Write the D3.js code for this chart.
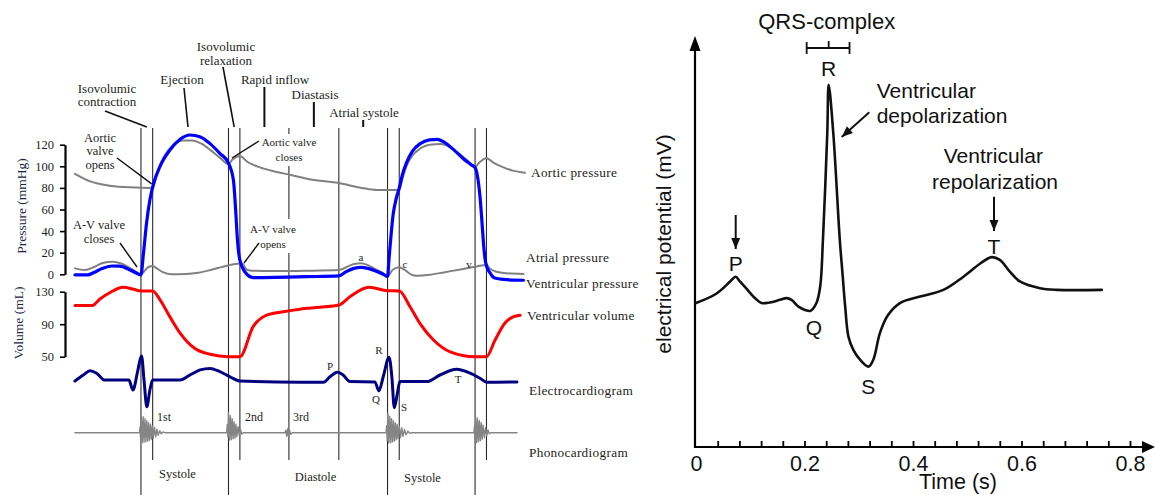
<!DOCTYPE html>
<html>
<head>
<meta charset="utf-8">
<script src="https://cdn.jsdelivr.net/npm/d3@7"></script>
<style>
  html, body { margin: 0; padding: 0; background: #fff; }
  svg { display: block; }
</style>
</head>
<body>
<svg id="chart" width="1155" height="495"></svg>
<script>
// ===================== Wiggers diagram (one and a half cardiac cycles) =====================
// time in ms, pressure in mmHg, volume in mL

// boundaries between the phases of the cycle
const phaseTimes = [214, 252, 498, 535, 694, 856, 1014, 1052, 1298, 1335];
// boundaries that run all the way to the bottom (valve closures / openings of the ventricle)
const fullPhaseTimes = [214, 498, 1014, 1298];

const pressureTicks = [0, 20, 40, 60, 80, 100, 120];
const volumeTicks = [50, 90, 130];

const aorticPressure = [
  [0, 93], [49, 86], [114, 82], [178, 80.5], [252, 80],
  [265, 92], [280, 104], [300, 114], [325, 121], [350, 124], [380, 124], [410, 121],
  [440, 115], [470, 108], [498, 102],
  [510, 106], [535, 109.5], [560, 104], [600, 99], [650, 95], [700, 92], [760, 88],
  [856, 84.5], [930, 80], [980, 78], [1052, 78],
  [1062, 88], [1075, 100], [1095, 110], [1120, 116.5], [1150, 120], [1187, 120.6],
  [1215, 118], [1250, 111], [1275, 105], [1298, 99],
  [1310, 103], [1335, 107.5], [1360, 103], [1390, 99], [1420, 96], [1460, 94]
];

const atrialPressure = [
  [0, 5.5], [32, 4], [60, 6.5], [90, 10.5], [123, 11.7], [150, 10], [175, 6.5], [200, 2], [214, 0],
  [228, 4], [240, 7], [252, 7.7], [265, 5.5], [285, 2], [313, 0], [360, 0.3], [400, 1.5],
  [440, 4], [480, 7], [510, 9], [535, 10], [545, 9.5], [552, 6], [560, 4], [575, 3.3],
  [650, 3], [750, 3.3], [856, 4],
  [880, 6.5], [905, 9.5], [928, 10.2], [950, 8.5], [980, 4], [1000, 1], [1014, -2],
  [1030, 4], [1052, 6.5], [1070, 4], [1090, 0], [1108, -1.3], [1150, -0.5], [1200, 2],
  [1260, 5], [1298, 7], [1335, 8.7], [1345, 5.5], [1368, 2.4], [1400, 1], [1455, 0.3]
];

const ventricularPressure = [
  [0, -0.5], [42, -0.5], [60, 1.5], [90, 5.5], [120, 7.7], [145, 7.5], [175, 4.5], [200, 1], [214, -0.5],
  [222, 19], [232, 47], [243, 69], [254, 83], [276, 100], [308, 115], [341, 125], [373, 129],
  [405, 127.4], [438, 121], [470, 112], [498, 103],
  [514, 87], [522, 56], [527, 32], [535, 13], [551, 2.4], [578, -3], [650, -2.8], [750, -2.2], [856, -1.5],
  [880, 2.5], [905, 5.5], [928, 6.5], [950, 5.5], [975, 3], [1000, 0], [1014, -2],
  [1019, 15], [1025, 35], [1032, 55], [1042, 70], [1052, 80], [1062, 92], [1075, 103],
  [1095, 114], [1120, 121], [1150, 124.5], [1175, 125], [1200, 122], [1230, 115], [1260, 107],
  [1285, 101.5], [1298, 98.7],
  [1305, 92], [1314, 72], [1320, 50], [1325, 30], [1330, 15], [1336, 7], [1345, 2], [1362, -3.5],
  [1400, -5], [1455, -5.5]
];

const ventricularVolume = [
  [0, 113], [56, 113], [81, 121], [114, 129], [156, 135.4], [190, 133], [214, 131], [252, 131],
  [276, 120], [308, 99], [341, 79], [389, 60], [438, 53], [498, 50], [535, 50],
  [578, 87], [622, 101.3], [676, 105.4], [730, 108.5], [795, 110.8], [856, 113.6],
  [892, 123.8], [954, 135.4], [1014, 131.3], [1052, 131],
  [1087, 111.5], [1119, 91], [1163, 70.5], [1217, 56], [1298, 50], [1335, 50],
  [1363, 70.5], [1395, 91.4], [1421, 99], [1444, 101]
];

// surface ECG, arbitrary units (0 = isoelectric line)
const ecgTrace = [
  [0, 0], [27, 0.2], [49, 0.34], [70, 0.26], [97, 0.03], [175, 0.03],
  [188, -0.3], [202, 0.26], [211, 0.7], [216, 0.83], [224, 0.03], [233, -0.86], [243, -0.3], [252, 0.03],
  [341, 0.03], [373, 0.2], [406, 0.37], [438, 0.42], [470, 0.31], [503, 0.14], [535, 0],
  [730, -0.04], [806, -0.04], [827, 0.14], [851, 0.29], [870, 0.2], [892, -0.02], [973, -0.03],
  [986, -0.33], [1000, 0.14], [1019, 0.79], [1028, 0.14], [1036, -0.89], [1046, -0.41], [1054, -0.02],
  [1141, -0.02], [1184, 0.2], [1238, 0.39], [1282, 0.26], [1314, 0.09], [1336, -0.04], [1434, -0.03]
];

// heart sounds, arbitrary units (0 = silence)
const phonoTrace = [
  [0, 0], [209, 0],
  [211, 0.3], [213, -0.35], [215, 0.88], [218, -0.5], [221, 0.8], [224, -0.48], [227, 0.7], [230, -0.45],
  [233, 0.6], [236, -0.42], [239, 0.5], [242, -0.38], [245, 0.42], [248, -0.32], [251, 0.34], [254, -0.27],
  [258, 0.26], [262, -0.2], [266, 0.18], [270, -0.13], [275, 0.1], [280, -0.06], [285, 0.04], [291, 0],
  [492, 0],
  [494, 0.4], [496, -0.2], [498, 1.0], [501, -0.37], [504, 0.85], [507, -0.35], [510, 0.7], [513, -0.3],
  [516, 0.55], [519, -0.27], [522, 0.42], [525, -0.2], [529, 0.3], [533, -0.14], [537, 0.16], [541, -0.07], [546, 0],
  [681, 0],
  [684, 0.12], [687, -0.18], [690, 0.2], [693, -0.17], [696, 0.13], [700, -0.08], [705, 0],
  [1009, 0],
  [1011, 0.35], [1013, -0.4], [1015, 0.98], [1018, -0.52], [1021, 0.82], [1024, -0.5], [1027, 0.7], [1030, -0.46],
  [1033, 0.6], [1036, -0.42], [1039, 0.5], [1042, -0.36], [1045, 0.42], [1048, -0.3], [1052, 0.34], [1056, -0.24],
  [1060, 0.25], [1064, -0.18], [1069, 0.16], [1074, -0.1], [1080, 0.08], [1086, -0.03], [1092, 0],
  [1294, 0],
  [1296, 0.3], [1298, -0.3], [1300, 0.8], [1303, -0.5], [1306, 0.72], [1309, -0.45], [1312, 0.6], [1315, -0.4],
  [1318, 0.5], [1321, -0.32], [1324, 0.38], [1328, -0.25], [1332, 0.26], [1336, -0.15], [1340, 0.14], [1344, -0.06],
  [1349, 0], [1434, 0]
];

// ===================== Single ECG complex (right) =====================
const ecgTimeTicks = [0.04, 0.08, 0.12, 0.16, 0.2, 0.24, 0.28, 0.32, 0.36, 0.4, 0.44, 0.48,
                      0.52, 0.56, 0.6, 0.64, 0.68, 0.72, 0.76, 0.8];
const ecgTimeLabels = [0, 0.2, 0.4, 0.6, 0.8];
// time (s), potential (mV)
const ecgComplex = [
  [0, -0.01], [0.038, 0.07], [0.063, 0.17], [0.073, 0.21], [0.081, 0.17], [0.093, 0.11], [0.109, 0.03],
  [0.121, -0.01], [0.136, -0.005], [0.155, 0.017], [0.167, 0.031], [0.176, 0.017], [0.189, -0.04],
  [0.201, -0.067], [0.211, -0.075], [0.222, -0.01], [0.229, 0.13], [0.234, 0.52], [0.242, 1.41],
  [0.2446, 1.81], [0.253, 1.41], [0.265, 0.52], [0.270, 0.24], [0.275, -0.04], [0.281, -0.29],
  [0.290, -0.40], [0.302, -0.48], [0.318, -0.54], [0.327, -0.48], [0.339, -0.26], [0.354, -0.11],
  [0.376, -0.01], [0.413, 0.044], [0.456, 0.10], [0.493, 0.21], [0.524, 0.32], [0.545, 0.373],
  [0.560, 0.35], [0.579, 0.25], [0.597, 0.17], [0.634, 0.114], [0.665, 0.10], [0.748, 0.10]
];
const qrsInterval = [0.204, 0.283];
const rPeakTime = 0.2446;

// ===================== drawing =====================
const svg = d3.select("#chart");
const SERIF = "'Liberation Serif', 'Times New Roman', serif";
const SANS = "'Liberation Sans', Arial, Helvetica, sans-serif";
const INK = "#1e1e22";

const xL = d3.scaleLinear().domain([0, 1460]).range([75, 525]);
const yP = d3.scaleLinear().domain([0, 120]).range([274.3, 144.7]);
const yV = d3.scaleLinear().domain([50, 130]).range([356.7, 291.7]);
const yE = d3.scaleLinear().domain([-1, 1]).range([411, 351]);
const yS = d3.scaleLinear().domain([-1, 1]).range([452.7, 412.7]);

const left = svg.append("g");

// phase boundaries
left.append("g").selectAll("line").data(phaseTimes).join("line")
  .attr("x1", d => xL(d)).attr("x2", d => xL(d))
  .attr("y1", 128)
  .attr("y2", d => fullPhaseTimes.includes(d) ? 495 : 460)
  .attr("stroke", "#2a2a2a").attr("stroke-width", 1.1);

// axes
function styleAxis(g) {
  g.select(".domain").attr("stroke", "#000").attr("stroke-width", 2.2);
  g.selectAll(".tick line").attr("stroke", "#000").attr("stroke-width", 1.6);
  g.selectAll(".tick text").attr("font-family", SERIF).attr("font-size", 12.5).attr("fill", INK);
}
left.append("g").attr("transform", "translate(65,0)")
  .call(d3.axisLeft(yP).tickValues(pressureTicks).tickSize(5).tickSizeOuter(0).tickPadding(6))
  .call(styleAxis);
left.append("g").attr("transform", "translate(65,0)")
  .call(d3.axisLeft(yV).tickValues(volumeTicks).tickSize(5).tickSizeOuter(0).tickPadding(6))
  .call(styleAxis);

left.append("text").attr("transform", "translate(21,206) rotate(-90)")
  .attr("text-anchor", "middle").attr("dominant-baseline", "central")
  .attr("font-family", SERIF).attr("font-size", 13.5).attr("fill", "#1c2640")
  .text("Pressure (mmHg)");
left.append("text").attr("transform", "translate(18,323) rotate(-90)")
  .attr("text-anchor", "middle").attr("dominant-baseline", "central")
  .attr("font-family", SERIF).attr("font-size", 13.5).attr("fill", "#1c2640")
  .text("Volume (mL)");

// curves
const lineP = d3.line().x(d => xL(d[0])).y(d => yP(d[1])).curve(d3.curveMonotoneX);
const lineV = d3.line().x(d => xL(d[0])).y(d => yV(d[1])).curve(d3.curveMonotoneX);
const lineE = d3.line().x(d => xL(d[0])).y(d => yE(d[1])).curve(d3.curveMonotoneX);
const lineS = d3.line().x(d => xL(d[0])).y(d => yS(d[1]));

function trace(gen, data, color, width) {
  left.append("path").attr("d", gen(data)).attr("fill", "none")
    .attr("stroke", color).attr("stroke-width", width)
    .attr("stroke-linejoin", "round").attr("stroke-linecap", "round");
}
trace(lineP, aorticPressure, "#808080", 2);
trace(lineP, atrialPressure, "#808080", 2);
trace(lineP, ventricularPressure, "#0000ff", 3.2);
trace(lineV, ventricularVolume, "#ff0000", 3);
trace(lineE, ecgTrace, "#000080", 3);
trace(lineS, phonoTrace, "#858585", 1.4);

// series names at the right end
const seriesNames = [
  ["Aortic pressure", 531, 172],
  ["Atrial pressure", 526, 257],
  ["Ventricular pressure", 526, 283],
  ["Ventricular volume", 527, 315],
  ["Electrocardiogram", 529, 390],
  ["Phonocardiogram", 529, 452]
];
left.append("g").selectAll("text").data(seriesNames).join("text")
  .attr("x", d => d[1]).attr("y", d => d[2])
  .attr("dominant-baseline", "central")
  .attr("font-family", SERIF).attr("font-size", 13.3).attr("letter-spacing", 0.3).attr("fill", INK)
  .text(d => d[0]);

// phase names with leaders pointing into each interval
function mid(a, b) { return xL((a + b) / 2); }
const lead = left.append("g").attr("stroke", "#111").attr("stroke-width", 1.6);
function textLines(lines, x, y0, step, size, anchor) {
  lines.forEach((s, i) => {
    left.append("text").attr("x", x).attr("y", y0 + i * step)
      .attr("text-anchor", anchor || "middle").attr("dominant-baseline", "central")
      .attr("font-family", SERIF).attr("font-size", size).attr("fill", INK).text(s);
  });
}
textLines(["Isovolumic", "contraction"], 107, 88, 13.5, 13);
lead.append("line").attr("x1", 105).attr("y1", 111).attr("x2", mid(214, 252)).attr("y2", 127);
textLines(["Ejection"], 182, 79, 0, 13);
lead.append("line").attr("x1", 184).attr("y1", 88).attr("x2", 188).attr("y2", 127);
textLines(["Isovolumic", "relaxation"], 226, 46, 14, 13);
lead.append("line").attr("x1", 223).attr("y1", 67).attr("x2", mid(498, 535)).attr("y2", 127);
textLines(["Rapid inflow"], 275, 79, 0, 13);
lead.append("line").attr("x1", mid(535, 694)).attr("y1", 87).attr("x2", mid(535, 694)).attr("y2", 127).attr("stroke-width", 2);
textLines(["Diastasis"], 315, 94, 0, 13);
lead.append("line").attr("x1", mid(694, 856)).attr("y1", 102).attr("x2", mid(694, 856)).attr("y2", 127).attr("stroke-width", 2);
textLines(["Atrial systole"], 364, 112, 0, 13);
lead.append("line").attr("x1", mid(856, 1014)).attr("y1", 120).attr("x2", mid(856, 1014)).attr("y2", 127).attr("stroke-width", 2);

// valve events
textLines(["Aortic", "valve", "opens"], 100, 137.5, 13.8, 12.5);
lead.append("line").attr("x1", 117).attr("y1", 158).attr("x2", xL(252) - 1).attr("y2", yP(80) - 4).attr("stroke-width", 1.4);

left.append("rect").attr("x", 261).attr("y", 134).attr("width", 56).attr("height", 32).attr("fill", "#fff");
textLines(["Aortic valve", "closes"], 289, 142, 15, 11);
lead.append("line").attr("x1", 259).attr("y1", 141).attr("x2", 232).attr("y2", 158).attr("stroke-width", 1.4);

textLines(["A-V valve", "closes"], 99, 225, 14, 12.5);
lead.append("line").attr("x1", 120).attr("y1", 243).attr("x2", 137).attr("y2", 267).attr("stroke-width", 1.4);

left.append("rect").attr("x", 252).attr("y", 219).attr("width", 44).attr("height", 34).attr("fill", "#fff");
textLines(["A-V valve", "opens"], 273, 229, 15, 11);
lead.append("line").attr("x1", 259).attr("y1", 243).attr("x2", 244).attr("y2", 263).attr("stroke-width", 1.4);

lead.raise();

// wave letters
const letters = [
  ["a", xL(928), 257], ["c", 405, 264], ["v", 469, 264],
  ["P", 330, 366], ["R", 379, 350], ["Q", 376, 399], ["S", 404, 407], ["T", 458, 379]
];
left.append("g").selectAll("text").data(letters).join("text")
  .attr("x", d => d[1]).attr("y", d => d[2])
  .attr("text-anchor", "middle").attr("dominant-baseline", "central")
  .attr("font-family", SERIF).attr("font-size", 11).attr("fill", INK).text(d => d[0]);

// heart sound names and cycle phases
textLines(["1st"], 157, 417, 0, 12, "start");
textLines(["2nd"], 245, 417, 0, 12, "start");
textLines(["3rd"], 293, 417, 0, 12, "start");
textLines(["Systole"], 177.5, 474, 0, 12.5);
textLines(["Diastole"], 315.5, 477, 0, 12.5);
textLines(["Systole"], 422.5, 478, 0, 12.5);

// ===================== right panel =====================
const xR = d3.scaleLinear().domain([0, 0.8]).range([696, 1130]);
const yR = d3.scaleLinear().domain([-1.21, 2.2]).range([447, 38]);
const right = svg.append("g");

// axes with arrow heads
right.append("line").attr("x1", 695).attr("y1", 448).attr("x2", 695).attr("y2", 48)
  .attr("stroke", "#000").attr("stroke-width", 2.2);
right.append("path").attr("d", "M695,36 L689.5,51 L700.5,51 Z").attr("fill", "#000");
right.append("line").attr("x1", 694).attr("y1", 447).attr("x2", 1144).attr("y2", 447)
  .attr("stroke", "#000").attr("stroke-width", 2.2);
right.append("path").attr("d", "M1155,447 L1142,441 L1142,453 Z").attr("fill", "#000");

const minorAxis = right.append("g").attr("transform", "translate(0,447)")
  .call(d3.axisBottom(xR).tickValues(ecgTimeTicks).tickSize(-6).tickFormat(""));
minorAxis.select(".domain").remove();
minorAxis.selectAll(".tick line").attr("stroke", "#000").attr("stroke-width", 1.8);

const labelAxis = right.append("g").attr("transform", "translate(0,447)")
  .call(d3.axisBottom(xR).tickValues(ecgTimeLabels).tickSize(0).tickPadding(9)
    .tickFormat(d => d === 0 ? "0" : d3.format(".1f")(d)));
labelAxis.select(".domain").remove();
labelAxis.selectAll(".tick text").attr("font-family", SANS).attr("font-size", 21.5).attr("fill", "#111");

right.append("text").attr("x", 958).attr("y", 489).attr("text-anchor", "middle")
  .attr("font-family", SANS).attr("font-size", 21.5)
  .attr("fill", "#111").text("Time (s)");
right.append("text").attr("transform", "translate(663,244) rotate(-90)")
  .attr("text-anchor", "middle").attr("dominant-baseline", "central")
  .attr("font-family", SANS).attr("font-size", 21).attr("fill", "#111")
  .text("electrical potential (mV)");

// the complex
right.append("path")
  .attr("d", d3.line().x(d => xR(d[0])).y(d => yR(d[1])).curve(d3.curveCatmullRom.alpha(0.5))(ecgComplex))
  .attr("fill", "none").attr("stroke", "#111").attr("stroke-width", 2.6)
  .attr("stroke-linejoin", "round").attr("stroke-linecap", "round");

// annotations
function rtext(s, x, y, size, anchor) {
  right.append("text").attr("x", x).attr("y", y)
    .attr("text-anchor", anchor || "middle").attr("dominant-baseline", "central")
    .attr("font-family", SANS).attr("font-size", size).attr("fill", "#111").text(s);
}
function arrow(x1, y1, x2, y2) {
  right.append("line").attr("x1", x1).attr("y1", y1).attr("x2", x2).attr("y2", y2)
    .attr("stroke", "#111").attr("stroke-width", 2);
  const a = Math.atan2(y2 - y1, x2 - x1), L = 11, W = 4.5;
  const bx = x2 - L * Math.cos(a), by = y2 - L * Math.sin(a);
  const px = -Math.sin(a) * W, py = Math.cos(a) * W;
  right.append("path")
    .attr("d", `M${x2},${y2} L${bx + px},${by + py} L${bx - px},${by - py} Z`)
    .attr("fill", "#111");
}

rtext("QRS-complex", 826.7, 21.5, 22);
const bq = right.append("g").attr("stroke", "#111").attr("stroke-width", 1.8);
bq.append("line").attr("x1", xR(qrsInterval[0])).attr("x2", xR(qrsInterval[1])).attr("y1", 48).attr("y2", 48);
bq.append("line").attr("x1", xR(qrsInterval[0])).attr("x2", xR(qrsInterval[0])).attr("y1", 42).attr("y2", 54);
bq.append("line").attr("x1", xR(qrsInterval[1])).attr("x2", xR(qrsInterval[1])).attr("y1", 42).attr("y2", 54);
bq.append("line").attr("x1", xR(rPeakTime)).attr("x2", xR(rPeakTime)).attr("y1", 41).attr("y2", 48);

rtext("R", xR(rPeakTime), 68.5, 21);
rtext("Ventricular", 876.7, 90, 21, "start");
rtext("depolarization", 876.7, 115.5, 21, "start");
arrow(869.3, 112.3, 841.7, 137);

rtext("Ventricular", 993.3, 155, 21);
rtext("repolarization", 995, 181.7, 21);
arrow(994, 196.7, 994, 231);
rtext("T", 994, 246, 21);

arrow(735.7, 215, 735.7, 249);
rtext("P", 735.7, 263, 21);
rtext("Q", 814, 327.5, 21);
rtext("S", 868.3, 386, 21);
</script>
</body>
</html>
